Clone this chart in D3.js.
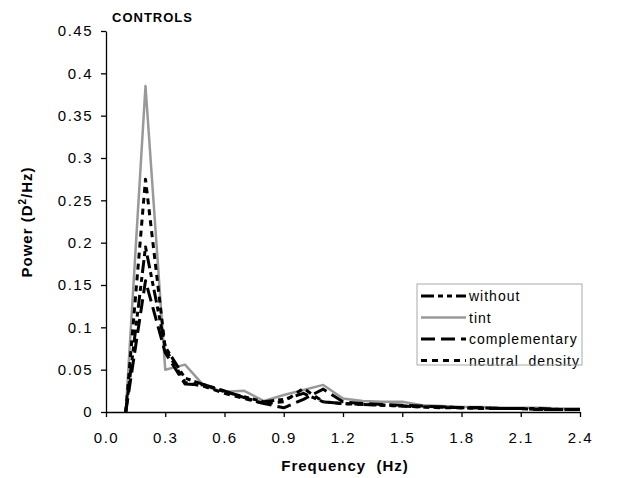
<!DOCTYPE html>
<html>
<head>
<meta charset="utf-8">
<script src="https://cdn.jsdelivr.net/npm/d3@7"></script>
<style>
body { margin: 0; background: #fff; }
text { font-family: "Liberation Sans", Arial, sans-serif; fill: #000; }
</style>
</head>
<body>
<svg id="chart" width="628" height="478"></svg>
<script>
var freq = [0.1,0.2,0.3,0.4,0.5,0.6,0.7,0.8,0.9,1.0,1.1,1.2,1.3,1.4,1.5,1.6,1.7,1.8,1.9,2.0,2.1,2.2,2.3,2.4]

var tint =          [0,0.385,0.05,0.056,0.03,0.024,0.025,0.013,0.02,0.026,0.032,0.016,0.013,0.012,0.012,0.008,0.007,0.006,0.006,0.005,0.005,0.005,0.004,0.004]
var without =       [0,0.195,0.077,0.04,0.032,0.024,0.018,0.012,0.015,0.022,0.012,0.01,0.009,0.008,0.007,0.006,0.006,0.005,0.005,0.004,0.004,0.004,0.003,0.003]
var complementary = [0,0.155,0.07,0.033,0.032,0.025,0.017,0.01,0.005,0.015,0.027,0.012,0.01,0.009,0.008,0.007,0.006,0.005,0.005,0.004,0.004,0.003,0.003,0.003]
var neutral =       [0,0.275,0.075,0.035,0.03,0.022,0.016,0.01,0.012,0.028,0.012,0.01,0.009,0.008,0.007,0.006,0.005,0.005,0.004,0.004,0.004,0.003,0.003,0.003]

var xTicks = [0,0.3,0.6,0.9,1.2,1.5,1.8,2.1,2.4]
var yTicks = [0,0.05,0.1,0.15,0.2,0.25,0.3,0.35,0.4,0.45]

var series = [
	{name: 'tint', values: tint, color: '#999', width: 2.5, dash: null},
	{name: 'without', values: without, color: '#000', width: 3, dash: '13,4,5,4,5,4'},
	{name: 'complementary', values: complementary, color: '#000', width: 3, dash: '14,6'},
	{name: 'neutral  density', values: neutral, color: '#000', width: 3, dash: '6,5'}
]
var legendOrder = ['without', 'tint', 'complementary', 'neutral  density']

var svg = d3.select('#chart')

var x = d3.scaleLinear().domain([0, 2.4]).range([106, 580])
var y = d3.scaleLinear().domain([0, 0.45]).range([412, 31])

var line = d3.line()
	.x(d => x(d[0]))
	.y(d => y(d[1]))

// lines
series.forEach(s => {
	svg.append('path')
		.datum(freq.map((f, i) => [f, s.values[i]]))
		.attr('d', line)
		.attr('fill', 'none')
		.attr('stroke', s.color)
		.attr('stroke-width', s.width)
		.attr('stroke-linejoin', 'round')
		.attr('stroke-dasharray', s.dash)
})

// axes
var xAxis = svg.append('g')
	.attr('transform', 'translate(0,412)')
	.call(d3.axisBottom(x).tickValues(xTicks).tickFormat(d3.format('.1f')).tickSize(5).tickSizeOuter(0))
xAxis.selectAll('text')
	.attr('dy', 0)
	.attr('y', 31)
	.style('font-size', '15px')
	.style('letter-spacing', '1.5px')

var yAxis = svg.append('g')
	.attr('transform', 'translate(106,0)')
	.call(d3.axisLeft(y).tickValues(yTicks).tickFormat(d => d == 0 ? '0' : d3.format('')(+d.toFixed(2))).tickSize(5).tickSizeOuter(0))
yAxis.selectAll('text')
	.attr('x', -13)
	.style('font-size', '15px')
	.style('letter-spacing', '1.5px')

svg.selectAll('.domain, .tick line').attr('stroke', '#000').attr('stroke-width', 1.3)

// titles
svg.append('text')
	.attr('x', 112)
	.attr('y', 22)
	.style('font-size', '13px')
	.style('font-weight', 'bold')
	.style('letter-spacing', '1px')
	.text('CONTROLS')

svg.append('text')
	.attr('x', 345)
	.attr('y', 471)
	.attr('text-anchor', 'middle')
	.style('font-size', '15px')
	.style('font-weight', 'bold')
	.style('letter-spacing', '1px')
	.style('white-space', 'pre')
	.text('Frequency  (Hz)')

var yl = svg.append('text')
	.attr('transform', 'translate(32,222) rotate(-90)')
	.attr('text-anchor', 'middle')
	.style('font-size', '15px')
	.style('font-weight', 'bold')
	.style('letter-spacing', '1px')
yl.append('tspan').text('Power (D')
yl.append('tspan').attr('dy', -6).style('font-size', '10px').text('2')
yl.append('tspan').attr('dy', 6).text('/Hz)')

// legend
var leg = svg.append('g')
svg.append('rect')
	.attr('x', 417).attr('y', 284)
	.attr('width', 165).attr('height', 81)
	.attr('fill', 'none')
	.attr('stroke', '#aaa')
	.attr('stroke-width', 1)

legendOrder.forEach((name, i) => {
	var s = series.find(d => d.name == name)
	var ly = 296 + i * 21.5
	leg.append('line')
		.attr('x1', 421).attr('x2', 466)
		.attr('y1', ly).attr('y2', ly)
		.attr('stroke', s.color)
		.attr('stroke-width', s.width)
		.attr('stroke-dasharray', s.dash)
	leg.append('text')
		.attr('x', 469)
		.attr('y', ly + 5)
		.style('font-size', '14px')
		.style('letter-spacing', '1px')
		.style('white-space', 'pre')
		.text(name)
})
</script>
</body>
</html>
